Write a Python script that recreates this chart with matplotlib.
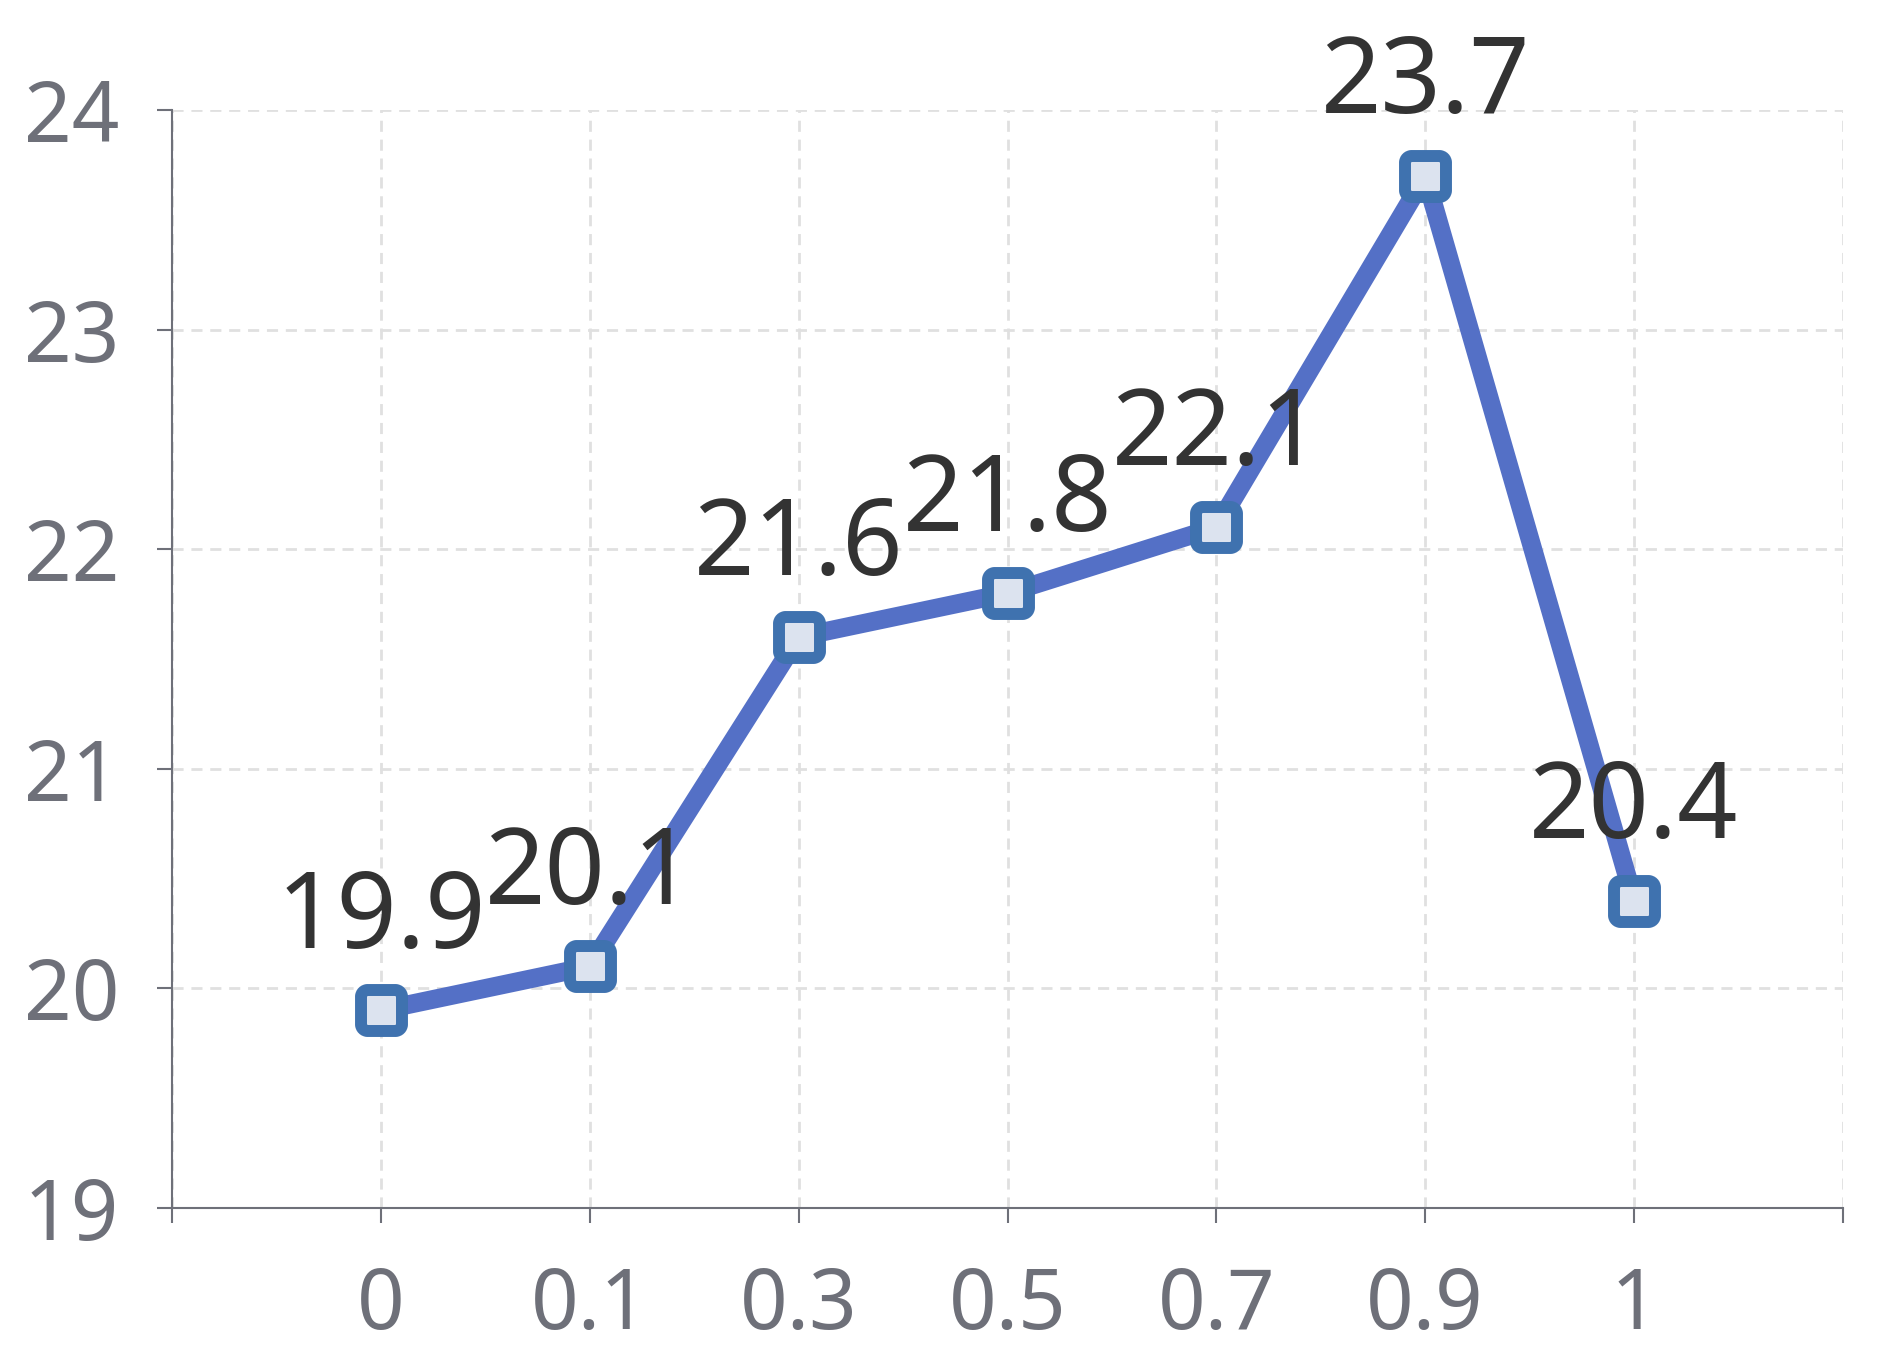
import matplotlib
matplotlib.use("Agg")
import matplotlib.pyplot as plt
from matplotlib.markers import MarkerStyle
from matplotlib.path import Path

categories = ["0", "0.1", "0.3", "0.5", "0.7", "0.9", "1"]
values = [19.9, 20.1, 21.6, 21.8, 22.1, 23.7, 20.4]
y_ticks = [19, 20, 21, 22, 23, 24]

plt.rcParams['font.family'] = ['Noto Sans', 'DejaVu Sans']


def rounded_square(r=0.16, h=0.5):
    k = 0.5523 * r
    a = h - r
    verts = [
        (-a, -h), (a, -h),
        (a + k, -h), (h, -a - k), (h, -a),
        (h, a),
        (h, a + k), (a + k, h), (a, h),
        (-a, h),
        (-a - k, h), (-h, a + k), (-h, a),
        (-h, -a),
        (-h, -a - k), (-a - k, -h), (-a, -h),
        (-a, -h),
    ]
    codes = [Path.MOVETO, Path.LINETO,
             Path.CURVE4, Path.CURVE4, Path.CURVE4,
             Path.LINETO,
             Path.CURVE4, Path.CURVE4, Path.CURVE4,
             Path.LINETO,
             Path.CURVE4, Path.CURVE4, Path.CURVE4,
             Path.LINETO,
             Path.CURVE4, Path.CURVE4, Path.CURVE4,
             Path.CLOSEPOLY]
    return Path(verts, codes)


fig = plt.figure(figsize=(19.01, 13.59), dpi=100)
ax = fig.add_axes([172/1901, 1 - 1208/1359, (1843-172)/1901, (1208-110)/1359])

xs = list(range(len(categories)))
marker = MarkerStyle(rounded_square(), joinstyle='round')
ax.plot(xs, values, color='#5470C6', lw=13.5, solid_joinstyle='round',
        solid_capstyle='round', zorder=3)
ax.plot(xs, values, linestyle='none', marker=marker, markersize=29.5,
        markerfacecolor='#DCE3EF', markeredgecolor='#3F72AF', markeredgewidth=8.6,
        zorder=4)

for x, v in zip(xs, values):
    ax.annotate(f"{v}", (x, v), xytext=(0, 45), textcoords='offset points',
                ha='center', va='baseline', fontsize=76, color='#333333', zorder=5)

ax.set_xlim(-1, len(categories))
ax.set_ylim(19, 24)
ax.set_xticks(list(range(-1, len(categories) + 1)))
ax.set_xticklabels([""] + categories + [""])
ax.set_yticks(y_ticks)

for s in ['top', 'right']:
    ax.spines[s].set_visible(False)
for s in ['left', 'bottom']:
    ax.spines[s].set_color('#6E7079')
    ax.spines[s].set_linewidth(1.5)

ax.tick_params(axis='both', colors='#6E7079', labelsize=60, length=11, width=1.5)
ax.tick_params(axis='y', pad=27)
ax.tick_params(axis='x', pad=30)

ax.grid(True, color='#E0E0E0', lw=2, linestyle=(0, (4, 2.8)), zorder=0)
ax.set_axisbelow(True)

fig.savefig("out.png", dpi=100)
